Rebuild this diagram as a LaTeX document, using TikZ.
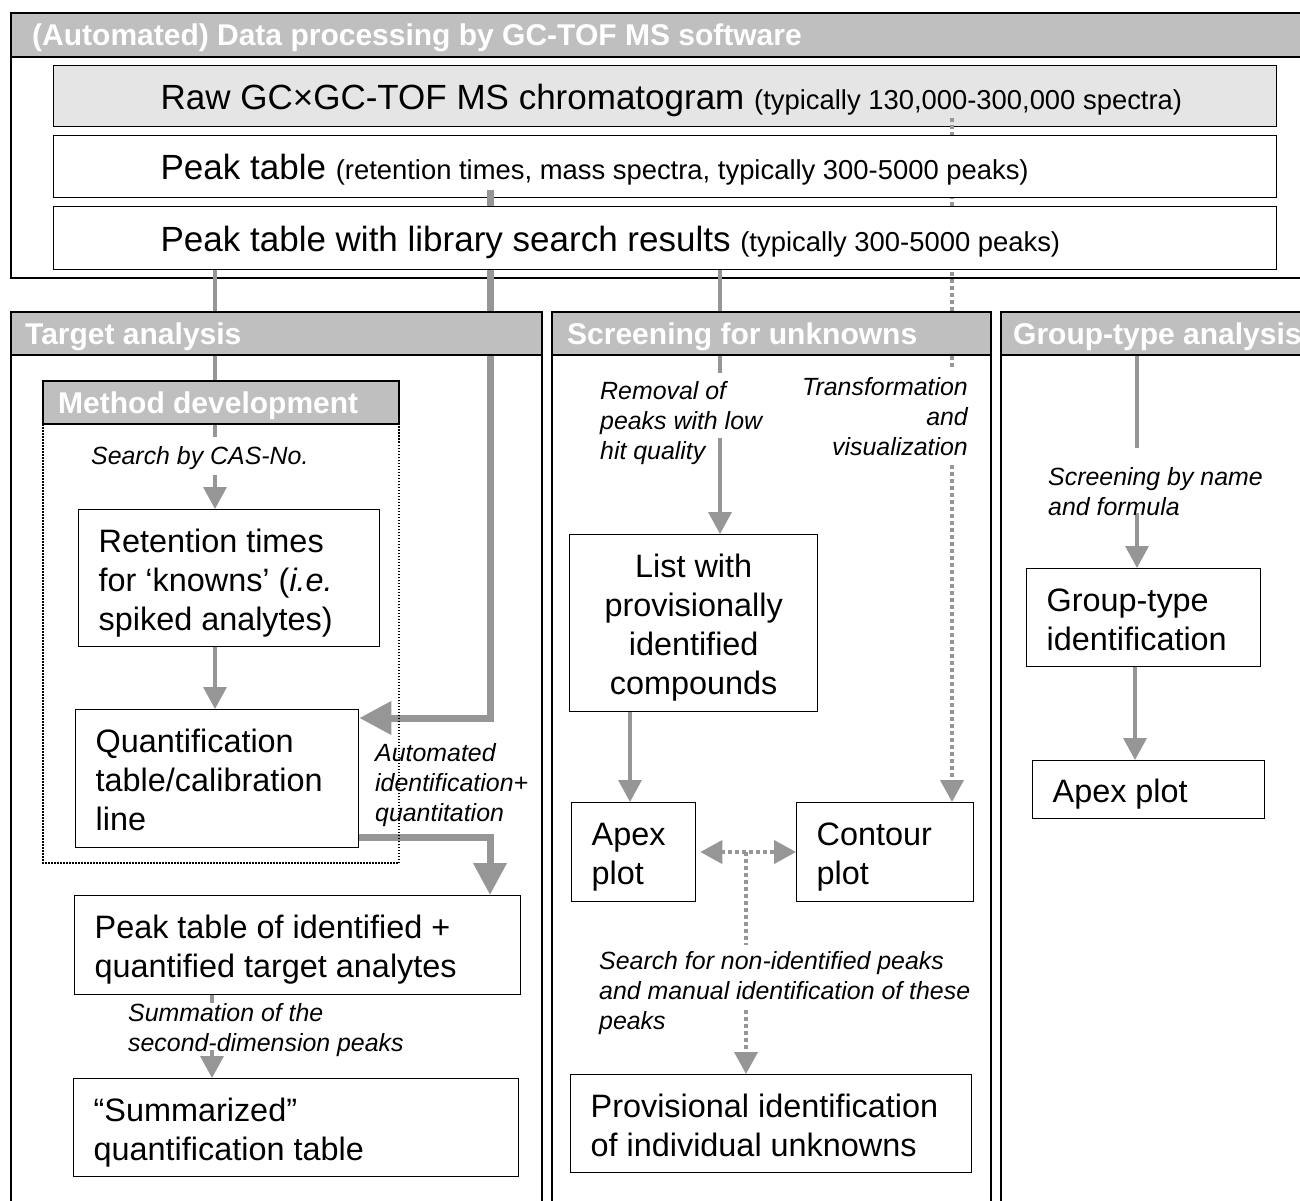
\documentclass[tikz,border=0pt]{standalone}
\usepackage{fontspec}
\setmainfont{Liberation Sans}
\usetikzlibrary{arrows.meta}
\definecolor{hdrgray}{RGB}{191,191,191}
\definecolor{rawgray}{RGB}{229,229,229}
\definecolor{agray}{RGB}{150,150,150}
\begin{document}
\begin{tikzpicture}[x=1pt,y=-1pt,
  box/.style={draw=black, line width=1.3pt, fill=white, anchor=north west, inner ysep=0pt, inner xsep=20pt, align=flush left, font=\fontsize{32.4}{39}\selectfont,
    execute at begin node={\rule{0pt}{34pt}}, execute at end node={\rule[-8pt]{0pt}{8pt}}},
  topbox/.style={box, inner xsep=0pt, text width=1223pt, font=\fontsize{35}{40}\selectfont},
  hdrband/.style={draw=black, line width=1.3pt, fill=hdrgray},
  hdrtext/.style={anchor=base west, inner sep=0pt, text=white, font=\fontsize{30}{34}\selectfont\bfseries},
  frame/.style={draw=black, line width=1.3pt},
  lbl/.style={inner sep=0pt, align=flush left, font=\fontsize{24.9}{30}\selectfont\itshape},
  thinline/.style={draw=agray, line width=3.5pt},
  thinarrow/.style={thinline, -{Triangle[width=23pt,length=22pt]}},
  thickline/.style={draw=agray, line width=7pt},
  thickarrow/.style={thickline, -{Triangle[width=32pt,length=32pt]}},
  dotline/.style={draw=agray, line width=4pt, dash pattern=on 4pt off 3pt},
  dotarrow/.style={dotline, -{Triangle[width=23pt,length=22pt]}},
]
\useasboundingbox (0,0) rectangle (1300,1201);

% top block
\draw[frame] (11,13) rectangle (1312,278);
\draw[hdrband] (11,13) rectangle (1312,57);
\node[hdrtext] (tTop) at (32,46) {(Automated) Data processing by GC-TOF MS software};

\node[topbox, minimum height=61pt, fill=rawgray] (raw) at (53,65) {\hspace*{107pt}Raw GC×GC-TOF MS chromatogram {\fontsize{27.4}{32}\selectfont (typically 130,000-300,000 spectra)}};

\coordinate (tA) at (952,118);
\coordinate (tB) at (952,368);
\coordinate (tC) at (952,465);
\draw[dotline] (tA) -- (tB);

\node[topbox, minimum height=62pt] (peak) at (53,135) {\hspace*{107pt}Peak table {\fontsize{27.4}{32}\selectfont (retention times, mass spectra, typically 300-5000 peaks)}};

% lower boxes
\node[box, text width=261pt, minimum height=137pt] (ret) at (78,509) {Retention times\\for ‘knowns’ (\textit{i.e.}\\spiked analytes)};
\node[box, text width=243pt, minimum height=138pt] (quant) at (75,709) {Quantification\\table/calibration\\line};
\node[box, text width=406pt, minimum height=99pt] (pid) at (74,895) {Peak table of identified +\\quantified target analytes};
\node[box, text width=405pt, minimum height=98pt] (summ) at (73,1078) {“Summarized”\\quantification table};
\node[box, text width=208pt, minimum height=177pt, align=flush center] (list) at (569,534) {List with\\provisionally\\identified\\compounds};
\node[box, text width=84pt, minimum height=99pt] (apex) at (571,802) {Apex\\plot};
\node[box, text width=137pt, minimum height=99pt] (cont) at (796,802) {Contour\\plot};
\node[box, text width=361pt, minimum height=98pt] (prov) at (570,1074) {Provisional identification\\of individual unknowns};
\node[box, text width=194pt, minimum height=98pt] (gid) at (1026,568) {Group-type\\identification};
\node[box, text width=192pt, minimum height=58pt] (gapex) at (1032,760) {Apex plot};

% thick connector peak table -> quantification
\coordinate (t0) at (490,190);
\coordinate (k1) at (490,718);
\draw[thickarrow] (t0) -- (k1) -- (k1 -| quant.east);

\node[topbox, minimum height=63pt] (lib) at (53,206) {\hspace*{107pt}Peak table with library search results {\fontsize{27.4}{32}\selectfont (typically 300-5000 peaks)}};

% target analysis connectors
\coordinate (xa) at (215,0);
\coordinate (c1) at (215,437);
\coordinate (c2) at (215,475);
\draw[thinline] (lib.south -| xa) -- (c1);
\draw[thinarrow] (c2) -- (ret.north -| c2);
\draw[thinarrow] (ret.south -| xa) -- (quant.north -| xa);
\coordinate (k2) at (490,837);
\draw[thickarrow] (k2 -| quant.east) -- (k2) -- (pid.north -| k2);
\coordinate (s1) at (212,1003);
\coordinate (s2) at (212,1050);
\draw[thinline] (pid.south -| s1) -- (s1);
\draw[thinarrow] (s2) -- (summ.north -| s2);

% screening connectors
\coordinate (r1) at (720,373);
\coordinate (r2) at (720,438);
\draw[thinline] (lib.south -| r1) -- (r1);
\draw[thinarrow] (r2) -- (list.north -| r2);
\coordinate (xl) at (630,0);
\draw[thinarrow] (list.south -| xl) -- (apex.north -| xl);
\draw[dotarrow] (tC) -- (cont.north -| tC);
\coordinate (m0) at (746,852);
\draw[dotline, {Triangle[width=23pt,length=22pt]}-{Triangle[width=23pt,length=22pt]}, shorten <=4pt] (apex.east |- m0) -- (cont.west |- m0);
\coordinate (m1) at (746,945);
\coordinate (m2) at (746,1010);
\draw[dotline] (m0) -- (m1);
\draw[dotarrow] (m2) -- (prov.north -| m2);

% group-type connectors
\coordinate (g0) at (1137,355);
\coordinate (g1) at (1137,448);
\coordinate (g2) at (1137,513);
\draw[thinline] (g0) -- (g1);
\draw[thinarrow] (g2) -- (gid.north -| g2);
\coordinate (xg) at (1135,0);
\draw[thinarrow] (gid.south -| xg) -- (gapex.north -| xg);

% panels
\draw[frame] (11,312) rectangle (542,1215);
\draw[hdrband] (11,312) rectangle (542,355);
\node[hdrtext] (tTA) at (25,344) {Target analysis};
\draw[frame] (552,312) rectangle (991,1215);
\draw[hdrband] (552,312) rectangle (991,355);
\node[hdrtext] (tSU) at (567,344) {Screening for unknowns};
\draw[frame] (1001,312) rectangle (1312,1215);
\draw[hdrband] (1001,312) rectangle (1312,355);
\node[hdrtext] (tGT) at (1013,344) {Group-type analysis};

% method development
\draw[black, line width=1.2pt, dash pattern=on 1.5pt off 1.5pt] (43,424) rectangle (399,863);
\draw[hdrband] (43,381) rectangle (399,424);
\node[hdrtext] (tMD) at (58,413) {Method development};

% labels
\node[lbl, anchor=west] (lCAS) at (91,458) {Search by CAS-No.};
\node[lbl, anchor=west] (lRem) at (600,423) {Removal of\\peaks with low\\hit quality};
\node[lbl, anchor=east, align=flush right] (lTr) at (968,417) {Transformation\\and\\visualization};
\node[lbl, anchor=west] (lAu) at (375,785) {Automated\\identification+\\quantitation};
\node[lbl, anchor=west] (lSum) at (128,1030) {Summation of the\\second-dimension peaks};
\node[lbl, anchor=west] (lSe) at (599,993) {Search for non-identified peaks\\and manual identification of these\\peaks};
\node[lbl, anchor=west] (lSc) at (1048,492) {Screening by name\\and formula};
\end{tikzpicture}
\end{document}
